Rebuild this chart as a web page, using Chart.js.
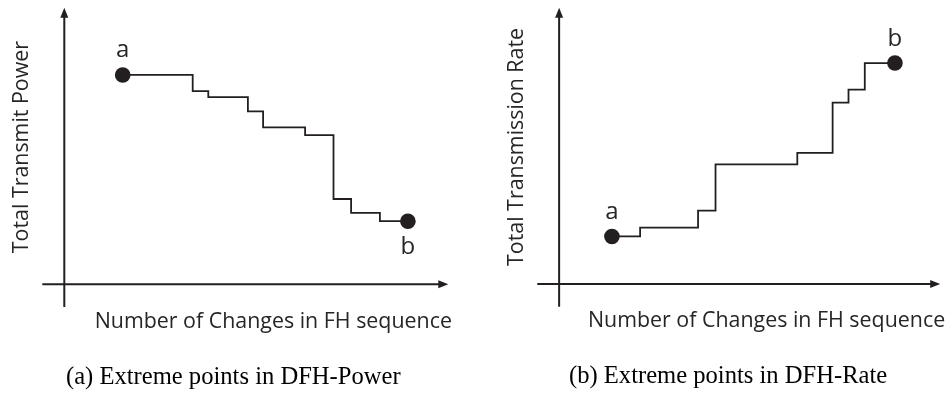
<!DOCTYPE html>
<html>
<head>
<meta charset="utf-8">
<script src="https://cdn.jsdelivr.net/npm/chart.js@4"></script>
<style>
  html, body { margin: 0; padding: 0; background: #fff; }
  #wrap { width: 948px; height: 396px; display: flex; }
  .panel { width: 474px; height: 396px; position: relative; }
  canvas { display: block; }
</style>
</head>
<body>
<div id="wrap">
  <div class="panel"><canvas id="power" width="474" height="396"></canvas></div>
  <div class="panel"><canvas id="rate" width="474" height="396"></canvas></div>
</div>
<script>
// Step profiles: x = change index in the FH sequence, y = level after that change
const powerChanges = [14.6, 32.1, 36.0, 45.9, 49.7, 60.2, 67.3, 71.7, 78.9, 85.9];
const powerLevels  = [52.8, 48.7, 47.2, 43.6, 39.6, 37.6, 21.5, 18.0, 15.9, 15.9];
const rateChanges  = [13.3, 20.4, 35.0, 39.4, 60.0, 68.9, 72.9, 77.0, 84.6];
const rateLevels   = [12.0, 14.2, 18.5, 30.2, 33.1, 45.8, 49.1, 55.8, 55.8];

// Extreme-point names (first and last point of each profile)
const extremeNames = ['a', 'b'];

// Axis texts
const xTitle = 'Number of Changes in FH sequence';
const powerYTitle = 'Total Transmit Power';
const rateYTitle = 'Total Transmission Rate';
const powerCaption = '(a) Extreme points in DFH-Power';
const rateCaption = '(b) Extreme points in DFH-Rate';

// Visible extent of the drawn axes (in data units)
const axisX = { min: -5.5, max: 96 };
const axisY = { min: -5.75, max: 69.75 };

const INK = '#231f20';
const TEXT = '#262626';
const SANS = '"Open Sans", "DejaVu Sans", sans-serif';
const SERIF = '"Liberation Serif", "DejaVu Serif", serif';

// Draws the arrowed axes, the axis titles, the caption and the a/b tags
const axesAndNotes = {
  id: 'axesAndNotes',
  beforeDatasetsDraw(chart, args, opts) {
    const { ctx, scales: { x, y } } = chart;
    const x0 = x.getPixelForValue(0), y0 = y.getPixelForValue(0);
    const xl = x.getPixelForValue(axisX.min), xr = x.getPixelForValue(axisX.max);
    const yb = y.getPixelForValue(axisY.min), yt = y.getPixelForValue(axisY.max);
    const head = 10, half = 4;
    ctx.save();
    ctx.strokeStyle = INK;
    ctx.fillStyle = INK;
    ctx.lineWidth = 2;
    ctx.beginPath();
    ctx.moveTo(xl, y0); ctx.lineTo(xr - head + 1, y0);
    ctx.moveTo(x0, yb); ctx.lineTo(x0, yt + head - 1);
    ctx.stroke();
    ctx.beginPath();
    ctx.moveTo(xr, y0); ctx.lineTo(xr - head, y0 - half); ctx.lineTo(xr - head, y0 + half); ctx.closePath();
    ctx.moveTo(x0, yt); ctx.lineTo(x0 - half, yt + head); ctx.lineTo(x0 + half, yt + head); ctx.closePath();
    ctx.fill();
    ctx.restore();
  },
  afterDatasetsDraw(chart, args, opts) {
    const { ctx, scales: { x, y } } = chart;
    const x0 = x.getPixelForValue(0), y0 = y.getPixelForValue(0);
    ctx.save();
    ctx.fillStyle = TEXT;

    // y title, rotated
    ctx.font = '21.4px ' + SANS;
    ctx.textAlign = 'center';
    ctx.textBaseline = 'alphabetic';
    ctx.save();
    ctx.translate(x0 - 36, y.getPixelForValue(34.6));
    ctx.rotate(-Math.PI / 2);
    ctx.fillText(opts.yTitle, 0, 0);
    ctx.restore();

    // x title
    ctx.fillText(xTitle, x.getPixelForValue(52.25), y0 + 43.3);

    // caption
    ctx.font = '24.6px ' + SERIF;
    ctx.fillStyle = '#000';
    ctx.fillText(opts.caption, x0 + 169, y0 + 99.3);

    // extreme point tags
    ctx.font = '24px ' + SANS;
    ctx.fillStyle = TEXT;
    const pts = chart.getDatasetMeta(0).data;
    const ends = [pts[0], pts[pts.length - 1]];
    ends.forEach((p, i) => {
      const below = opts.tagBelow[i];
      ctx.fillText(extremeNames[i], p.x, below ? p.y + 33 : p.y - 17.5);
    });
    ctx.restore();
  }
};

function makePanel(id, xs, ys, pad, yTitle, caption, tagBelow) {
  const pts = xs.map((v, i) => ({ x: v, y: ys[i] }));
  const last = pts.length - 1;
  return new Chart(document.getElementById(id), {
    type: 'line',
    data: {
      datasets: [{
        data: pts,
        stepped: 'before',
        borderColor: INK,
        borderWidth: 1.8,
        backgroundColor: INK,
        pointBackgroundColor: INK,
        pointBorderWidth: 0,
        pointRadius: c => (c.dataIndex === 0 || c.dataIndex === last) ? 7.8 : 0,
        pointHoverRadius: c => (c.dataIndex === 0 || c.dataIndex === last) ? 7.8 : 0,
        fill: false
      }]
    },
    options: {
      responsive: false,
      animation: false,
      devicePixelRatio: 1,
      layout: { padding: pad },
      events: [],
      scales: {
        x: { type: 'linear', display: false, min: axisX.min, max: axisX.max },
        y: { type: 'linear', display: false, min: axisY.min, max: axisY.max }
      },
      plugins: {
        legend: { display: false },
        tooltip: { enabled: false },
        axesAndNotes: { yTitle, caption, tagBelow }
      }
    },
    plugins: [axesAndNotes]
  });
}

makePanel('power', powerChanges, powerLevels,
  { left: 42.3, right: 25.7, top: 5, bottom: 89 },
  powerYTitle, powerCaption, [false, true]);
makePanel('rate', rateChanges, rateLevels,
  { left: 63.3, right: 4, top: 5, bottom: 89.3 },
  rateYTitle, rateCaption, [false, false]);
</script>
</body>
</html>
